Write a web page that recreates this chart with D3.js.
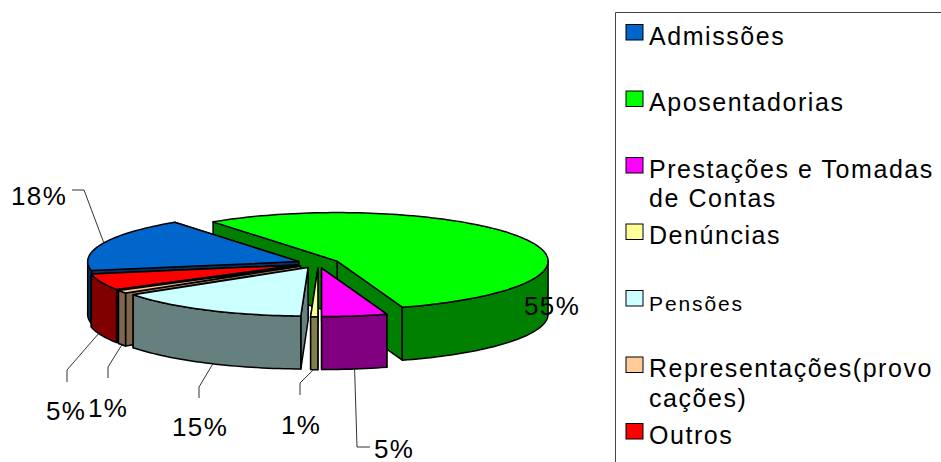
<!DOCTYPE html>
<meta charset="utf-8">
<style>
  body { margin: 0; background: #fff; }
  text { font-family: "Liberation Sans", Arial, sans-serif; fill: #000; }
</style>
<svg width="941" height="462"></svg>
<script src="https://d3js.org/d3.v7.min.js"></script>
<script>

var categories = ["Admissões", "Aposentadorias", "Prestações e Tomadas de Contas", "Denúncias", "Pensões", "Representações(provocações)", "Outros"];
var values = [18, 55, 5, 0.55, 15, 1, 5.45];
var percentLabels = ["18%", "55%", "5%", "1%", "15%", "1%", "5%"];
var colors = ["#0066cc", "#00ff00", "#ff00ff", "#ffff99", "#ccffff", "#ffcc99", "#ff0000"];
var legendLines = [["Admissões"], ["Aposentadorias"], ["Prestações e Tomadas", "de Contas"], ["Denúncias"], ["Pensões"], ["Representações(provo", "cações)"], ["Outros"]];

var svg = d3.select("svg");

// tilted pie: unit circle projected to an ellipse
var cx = 318.3, cy = 263.3, rx = 211, ry = 48.5, depth = 53, explode = 0.1;
var x = d3.scaleLinear().domain([-1, 1]).range([cx - rx, cx + rx]);
var y = d3.scaleLinear().domain([-1, 1]).range([cy - ry, cy + ry]);

var toRad = Math.PI / 180;
var pie = d3.pie().sort(null).value(function(d) { return d; })
  .startAngle(-100.8 * toRad).endAngle(259.2 * toRad);
var slices = pie(values);

function half(c) {
  var o = d3.rgb(c);
  return d3.rgb(o.r / 2, o.g / 2, o.b / 2).formatHex();
}

// r in unit circle radii, angle clockwise from top
function pt(d, a, r, down) {
  var mid = (d.startAngle + d.endAngle) / 2;
  return [
    x(explode * Math.sin(mid) + r * Math.sin(a)),
    y(-explode * Math.cos(mid) - r * Math.cos(a)) + (down || 0)
  ];
}

function arcPts(d, a0, a1, down) {
  var n = Math.max(2, Math.ceil((a1 - a0) / (toRad * 1.5)));
  return d3.range(n + 1).map(function(i) { return pt(d, a0 + (a1 - a0) * i / n, 1, down); });
}

var line = d3.line().curve(d3.curveLinear);
function closed(pts) { return line(pts) + "Z"; }

function wall(d, a) {
  return closed([pt(d, a, 0), pt(d, a, 1), pt(d, a, 1, depth), pt(d, a, 0, depth)]);
}

// visible (front) parts of the rim, the back half is hidden
function rims(d) {
  var parts = [];
  [[Math.PI / 2, Math.PI * 1.5], [Math.PI * 2.5, Math.PI * 3.5], [-Math.PI * 1.5, -Math.PI / 2]].forEach(function(w) {
    var a0 = Math.max(d.startAngle, w[0]), a1 = Math.min(d.endAngle, w[1]);
    if (a1 > a0) parts.push(closed(arcPts(d, a0, a1, 0).concat(arcPts(d, a0, a1, depth).reverse())));
  });
  return parts;
}

function topFace(d) {
  return closed([pt(d, d.startAngle, 0)].concat(arcPts(d, d.startAngle, d.endAngle, 0)));
}

// back to front
var drawOrder = [1, 0, 6, 5, 4, 3, 2];

var g = svg.append("g")
  .attr("stroke", "#000").attr("stroke-width", 1.5).attr("stroke-linejoin", "round");

drawOrder.forEach(function(i) {
  var d = slices[i], s = g.append("g").attr("class", "slice");
  var dark = half(colors[i]);
  s.append("path").attr("d", wall(d, d.endAngle)).attr("fill", dark);
  s.append("path").attr("d", wall(d, d.startAngle)).attr("fill", dark);
  rims(d).forEach(function(p) { s.append("path").attr("d", p).attr("fill", dark); });
  s.append("path").attr("d", topFace(d)).attr("fill", colors[i]);
});

// percent labels with leader lines, leader starts on the rim
var labelLayout = [
  { at: [11, 205], elbow: [[84, 190], [72, 190]], angle: 0.515, down: 0 },
  { at: [524, 315] },
  { at: [374, 458], elbow: [[357, 447], [370, 447]], angle: 0.5, down: depth },
  { at: [281, 434], elbow: [[300, 383], [300, 395]], angle: 0.6, down: depth },
  { at: [172, 436], elbow: [[199, 387], [199, 398]], angle: 0.46, down: depth },
  { at: [88, 417], elbow: [[108, 367], [108, 378]], angle: 0.5, down: depth },
  { at: [46, 420], elbow: [[67, 370], [67, 382]], angle: 0.6, down: depth }
];

labelLayout.forEach(function(l, i) {
  if (l.elbow) {
    var d = slices[i];
    var start = pt(d, d.startAngle + (d.endAngle - d.startAngle) * l.angle, 1, l.down);
    svg.append("path")
      .attr("d", line([start].concat(l.elbow)))
      .attr("fill", "none").attr("stroke", "#333").attr("stroke-width", 1);
  }
  svg.append("text").attr("x", l.at[0]).attr("y", l.at[1])
    .attr("font-size", 26).attr("letter-spacing", 1.4)
    .text(percentLabels[i]);
});

// legend, the frame runs off the right and bottom of the picture
svg.append("path").attr("d", "M615.5,462V12.5H941")
  .attr("fill", "none").attr("stroke", "#444").attr("stroke-width", 1);

var legendY = d3.scaleLinear().domain([0, 6]).range([24, 423]);
var legend = svg.selectAll(".legend").data(categories).enter().append("g").attr("class", "legend");

legend.append("rect")
  .attr("x", 626).attr("y", function(d, i) { return legendY(i) + 0.5; })
  .attr("width", 17).attr("height", 15.5)
  .attr("fill", function(d, i) { return colors[i]; })
  .attr("stroke", "#000").attr("stroke-width", 1);

legend.each(function(d, i) {
  legendLines[i].forEach(function(t, j) {
    d3.select(this).append("text")
      .attr("x", 649).attr("y", legendY(i) + 20.5 + j * 29.5)
      .attr("font-size", i == 4 ? 21 : 25)
      .attr("letter-spacing", i == 4 ? 1.9 : 1.55)
      .text(t);
  }, this);
});

</script>
